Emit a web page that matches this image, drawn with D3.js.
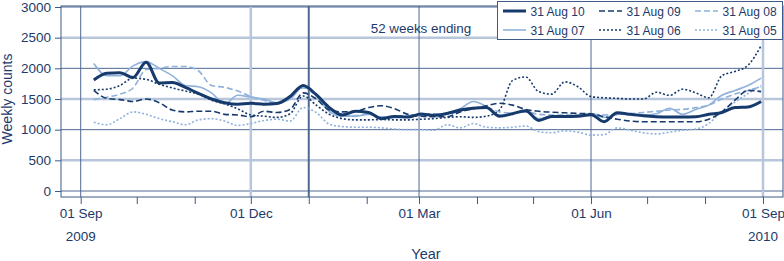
<html>
<head>
<style>
  body { margin: 0; background: #fff; }
  text { font-family: "Liberation Sans", Arial, sans-serif; fill: #1d3a6a; }
</style>
</head>
<body>
<script src="https://cdn.jsdelivr.net/npm/d3@7"></script>
<svg id="chart" width="784" height="261"></svg>
<script>
// series names, weekly counts for the 52 weeks ending 31 Aug of each year
let seriesNames = ["31 Aug 10", "31 Aug 09", "31 Aug 08", "31 Aug 07", "31 Aug 06", "31 Aug 05"];
let firstWeek = new Date(2009, 8, 8);

let aug10 = [1810,1920,1930,1850,2100,1760,1770,1690,1590,1500,1440,1415,1430,
             1415,1425,1540,1720,1570,1360,1240,1300,1280,1180,1215,1205,1255,
             1235,1265,1320,1350,1360,1220,1260,1310,1150,1215,1215,1220,1245,
             1130,1275,1250,1225,1210,1205,1205,1210,1250,1280,1360,1370,1460];
let aug09 = [1640,1510,1490,1460,1500,1440,1320,1290,1300,1300,1250,1240,1210,
             1300,1280,1330,1600,1500,1320,1290,1300,1360,1390,1340,1250,1220,
             1210,1210,1290,1340,1390,1430,1400,1330,1300,1285,1275,1265,1260,
             1210,1170,1140,1130,1130,1130,1130,1130,1170,1290,1480,1640,1620];
let aug08 = [1490,1530,1580,1680,1980,2000,2030,2030,1960,1720,1690,1630,1540,
             1480,1420,1520,1680,1550,1300,1230,1230,1260,1210,1220,1230,1250,
             1260,1260,1300,1360,1360,1290,1270,1290,1250,1240,1240,1240,1250,
             1240,1250,1260,1280,1300,1320,1330,1360,1400,1500,1580,1640,1700];
let aug07 = [2080,1880,1880,2040,2110,2000,1880,1720,1700,1600,1420,1560,1530,
             1500,1440,1500,1700,1560,1300,1220,1220,1250,1200,1200,1210,1240,
             1240,1270,1340,1460,1380,1240,1260,1300,1180,1220,1220,1230,1250,
             1200,1250,1260,1240,1260,1350,1250,1330,1400,1560,1640,1720,1840];
let aug06 = [1650,1660,1720,1840,1820,1740,1680,1630,1580,1480,1420,1340,1240,
             1220,1200,1260,1550,1400,1250,1180,1160,1160,1165,1160,1160,1170,
             1180,1200,1210,1200,1220,1320,1800,1860,1620,1580,1780,1700,1540,
             1520,1510,1500,1500,1610,1560,1660,1600,1520,1880,1950,2050,2370];
let aug05 = [1120,1080,1180,1290,1250,1180,1130,1080,1160,1180,1140,1070,1100,
             1150,1170,1140,1360,1280,1090,1050,1040,1040,1030,1010,1000,1000,
             990,1080,1030,1100,1040,1030,1040,1060,970,950,980,960,910,
             920,1030,990,950,930,960,990,1010,1100,1300,1450,1590,1720];

let yTicks = [0, 500, 1000, 1500, 2000, 2500, 3000];
let labelledMonths = [8, 11, 2, 5]; // Sep, Dec, Mar, Jun

let dark = "#173a6d", light = "#8fb1dc";
let styles = [
  {color: dark,  width: 3, dash: null},
  {color: dark,  width: 1.6, dash: "6,3"},
  {color: light, width: 1.6, dash: "6,3"},
  {color: light, width: 1.6, dash: null},
  {color: dark,  width: 1.6, dash: "2,2"},
  {color: light, width: 1.6, dash: "2,2"}
];
let allSeries = [aug10, aug09, aug08, aug07, aug06, aug05];

let svg = d3.select("#chart");
let plotLeft = 61, plotRight = 783, plotTop = 6, plotBottom = 197;

let x = d3.scaleTime()
  .domain([new Date(2009, 8, 1), new Date(2010, 8, 1)])
  .range([80.7, 763]);
let y = d3.scaleLinear().domain([0, 3000]).range([191, 7]);

// horizontal grid lines
svg.append("g").selectAll("line").data(yTicks).enter().append("line")
  .attr("x1", plotLeft).attr("x2", plotRight)
  .attr("y1", d => y(d)).attr("y2", d => y(d))
  .attr("stroke", d => d % 1000 == 0 ? "#4f6892" : "#b7c6da")
  .attr("stroke-width", d => d % 1000 == 0 ? 1 : 2.5);

// vertical grid lines
let vLines = [
  {date: new Date(2009, 8, 1), color: "#4f6892", w: 1},
  {date: new Date(2009, 11, 1), color: "#b7c6da", w: 2.5},
  {date: new Date(2010, 0, 1), color: "#4f6892", w: 2},
  {date: new Date(2010, 2, 1), color: "#4f6892", w: 1},
  {date: new Date(2010, 5, 1), color: "#4f6892", w: 1},
  {date: new Date(2010, 8, 1), color: "#b7c6da", w: 2.5}
];
svg.append("g").selectAll("line").data(vLines).enter().append("line")
  .attr("x1", d => x(d.date)).attr("x2", d => x(d.date))
  .attr("y1", plotTop).attr("y2", plotBottom)
  .attr("stroke", d => d.color).attr("stroke-width", d => d.w);

// lines
let line = d3.line()
  .x((d, i) => x(d3.timeDay.offset(firstWeek, 7 * i)))
  .y(d => y(d))
  .curve(d3.curveMonotoneX);

svg.append("g").selectAll("path").data(allSeries.slice().reverse()).enter().append("path")
  .attr("d", line)
  .attr("fill", "none")
  .attr("stroke", (d, i) => styles[5 - i].color)
  .attr("stroke-width", (d, i) => styles[5 - i].width)
  .attr("stroke-dasharray", (d, i) => styles[5 - i].dash);

// frame
svg.append("rect")
  .attr("x", plotLeft).attr("y", plotTop)
  .attr("width", plotRight - plotLeft).attr("height", plotBottom - plotTop)
  .attr("fill", "none").attr("stroke", "#3d5a88").attr("stroke-width", 1);

// axes
let yAxis = d3.axisLeft(y).tickValues(yTicks).tickSize(6).tickPadding(4).tickFormat(d3.format("d"));
let gy = svg.append("g").attr("transform", "translate(" + plotLeft + ",0)").call(yAxis);

let xAxis = d3.axisBottom(x)
  .ticks(d3.timeMonth.every(1))
  .tickSize(7).tickPadding(4)
  .tickFormat(d => labelledMonths.includes(d.getMonth()) ? d3.timeFormat("%d %b")(d) : "");
let gx = svg.append("g").attr("transform", "translate(0," + plotBottom + ")").call(xAxis);

[gx, gy].forEach(g => {
  g.select(".domain").remove();
  g.selectAll("line").attr("stroke", "#3d5a88");
  g.selectAll("text").attr("fill", "#1d3a6a").style("font-size", "13.5px")
    .attr("font-family", "Liberation Sans, Arial, sans-serif");
});

// year labels
svg.append("text").attr("x", x(new Date(2009, 8, 1))).attr("y", 241)
  .attr("text-anchor", "middle").style("font-size", "13.5px").text("2009");
svg.append("text").attr("x", x(new Date(2010, 8, 1))).attr("y", 241)
  .attr("text-anchor", "middle").style("font-size", "13.5px").text("2010");

// axis titles
svg.append("text").attr("x", 426).attr("y", 259)
  .attr("text-anchor", "middle").style("font-size", "14.5px").text("Year");
svg.append("text").attr("transform", "translate(12,99) rotate(-90)")
  .attr("text-anchor", "middle").style("font-size", "14px").text("Weekly counts");

// legend
svg.append("text").attr("x", 421).attr("y", 33)
  .attr("text-anchor", "middle").style("font-size", "13.4px").text("52 weeks ending");

let lg = svg.append("g");
lg.append("rect").attr("x", 497.5).attr("y", 1.5).attr("width", 285).attr("height", 38)
  .attr("fill", "#fff").attr("stroke", "#3d5a88").attr("stroke-width", 1);
let colX = [503, 599, 695], rowY = [11, 30];
let items = lg.selectAll("g.item").data(seriesNames).enter().append("g")
  .attr("transform", (d, i) => "translate(" + colX[i % 3] + "," + rowY[Math.floor(i / 3)] + ")");
items.append("line").attr("x1", 0).attr("x2", 23).attr("y1", 0).attr("y2", 0)
  .attr("stroke", (d, i) => styles[i].color)
  .attr("stroke-width", (d, i) => styles[i].width)
  .attr("stroke-dasharray", (d, i) => styles[i].dash);
items.append("text").attr("x", 27.5).attr("y", 4.5)
  .style("font-size", "12px").text(d => d);
</script>
</body>
</html>
